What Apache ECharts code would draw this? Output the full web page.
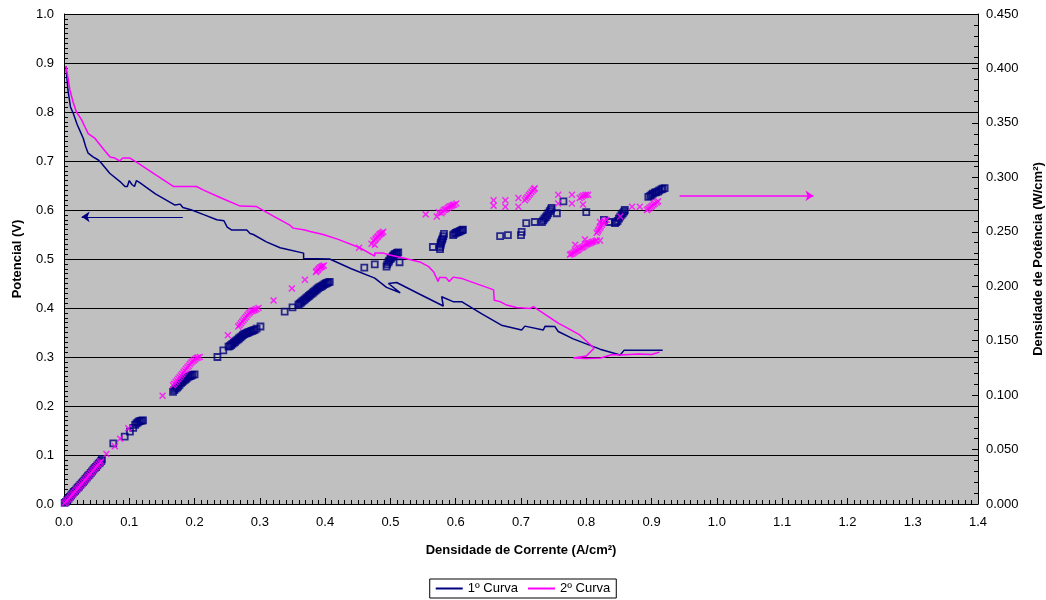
<!DOCTYPE html>
<html><head><meta charset="utf-8">
<script src="https://cdn.jsdelivr.net/npm/echarts@6/dist/echarts.min.js"></script>
<style>html,body{margin:0;padding:0;background:#fff}#c{width:1046px;height:600px}</style>
</head><body><div id="c"></div>
<script>
// Polarization curves [current density A/cm², potential V]
const curve1 = [[0.003,0.893],[0.006,0.845],[0.010,0.81],[0.0143,0.797],[0.020,0.775],[0.025,0.76],[0.0296,0.746],[0.033,0.73],[0.037,0.716],[0.045,0.708],[0.0526,0.702],[0.0577,0.695],[0.070,0.675],[0.0858,0.658],[0.0934,0.648],[0.097,0.648],[0.100,0.66],[0.104,0.652],[0.108,0.648],[0.111,0.66],[0.116,0.656],[0.140,0.633],[0.170,0.610],[0.178,0.612],[0.182,0.605],[0.1956,0.600],[0.215,0.59],[0.234,0.580],[0.245,0.578],[0.250,0.565],[0.257,0.559],[0.280,0.559],[0.285,0.552],[0.290,0.55],[0.310,0.535],[0.331,0.523],[0.341,0.52],[0.367,0.512],[0.367,0.501],[0.407,0.5],[0.440,0.48],[0.476,0.461],[0.494,0.442],[0.515,0.431],[0.497,0.45],[0.5095,0.452],[0.545,0.428],[0.581,0.404],[0.5785,0.423],[0.596,0.413],[0.609,0.413],[0.640,0.388],[0.670,0.365],[0.701,0.355],[0.706,0.363],[0.734,0.355],[0.737,0.363],[0.752,0.362],[0.757,0.352],[0.780,0.337],[0.821,0.316],[0.852,0.304],[0.858,0.314],[0.917,0.314]];
const curve2 = [[0.003,0.893],[0.006,0.87],[0.009,0.845],[0.014,0.82],[0.019,0.80],[0.027,0.784],[0.032,0.77],[0.037,0.756],[0.0475,0.746],[0.060,0.725],[0.0705,0.708],[0.078,0.706],[0.085,0.700],[0.090,0.706],[0.101,0.706],[0.114,0.695],[0.140,0.672],[0.1675,0.648],[0.203,0.648],[0.213,0.641],[0.240,0.625],[0.270,0.608],[0.295,0.607],[0.320,0.588],[0.346,0.569],[0.351,0.563],[0.369,0.559],[0.377,0.556],[0.397,0.550],[0.420,0.54],[0.453,0.523],[0.476,0.506],[0.476,0.512],[0.489,0.512],[0.499,0.508],[0.520,0.502],[0.545,0.494],[0.558,0.485],[0.566,0.474],[0.573,0.454],[0.575,0.462],[0.585,0.462],[0.590,0.454],[0.596,0.463],[0.610,0.46],[0.652,0.440],[0.658,0.437],[0.659,0.416],[0.668,0.413],[0.678,0.406],[0.693,0.401],[0.714,0.399],[0.719,0.403],[0.757,0.369],[0.770,0.36],[0.790,0.345],[0.812,0.318],[0.800,0.302],[0.780,0.298],[0.800,0.297],[0.822,0.298],[0.840,0.305],[0.852,0.304],[0.880,0.306],[0.900,0.305],[0.912,0.31]];
// Power density [current density A/cm², power W/cm²]
const power1 = [[0.001,0.001],[0.003,0.002],[0.005,0.0035],[0.007,0.005],[0.009,0.0065],[0.011,0.008],[0.013,0.0095],[0.015,0.011],[0.017,0.012],[0.019,0.0135],[0.021,0.015],[0.023,0.016],[0.025,0.0175],[0.027,0.019],[0.029,0.020],[0.031,0.0215],[0.033,0.023],[0.035,0.0245],[0.037,0.026],[0.039,0.027],[0.041,0.0285],[0.043,0.030],[0.045,0.0315],[0.047,0.033],[0.049,0.034],[0.051,0.0355],[0.053,0.037],[0.055,0.038],[0.057,0.0395],[0.058,0.041],[0.0755,0.0557],[0.093,0.0618],[0.101,0.0664],[0.106,0.070],[0.109,0.0726],[0.111,0.074],[0.113,0.075],[0.115,0.0758],[0.117,0.0763],[0.119,0.0766],[0.121,0.0768],
 [0.167,0.103],[0.169,0.1045],[0.171,0.106],[0.173,0.107],[0.175,0.108],[0.177,0.1095],[0.179,0.111],[0.181,0.112],[0.183,0.113],[0.185,0.114],[0.187,0.115],[0.189,0.116],[0.191,0.117],[0.193,0.1175],[0.195,0.118],[0.197,0.1185],[0.200,0.119],
 [0.235,0.135],[0.244,0.141],[0.252,0.1445],[0.254,0.145],[0.256,0.146],[0.258,0.147],[0.260,0.148],[0.262,0.149],[0.264,0.150],[0.266,0.151],[0.268,0.152],[0.270,0.153],[0.272,0.154],[0.274,0.155],[0.276,0.156],[0.278,0.1565],[0.280,0.157],[0.282,0.1575],[0.284,0.158],[0.286,0.1585],[0.288,0.159],[0.290,0.1595],[0.292,0.160],[0.295,0.161],[0.301,0.163],
 [0.338,0.1766],[0.350,0.1806],[0.359,0.183],[0.361,0.184],[0.363,0.185],[0.365,0.186],[0.367,0.187],[0.369,0.188],[0.371,0.189],[0.373,0.190],[0.375,0.191],[0.377,0.192],[0.379,0.193],[0.381,0.194],[0.383,0.195],[0.385,0.196],[0.387,0.197],[0.389,0.198],[0.391,0.199],[0.393,0.1995],[0.395,0.200],[0.397,0.201],[0.399,0.202],[0.401,0.2025],[0.403,0.203],[0.405,0.2035],[0.407,0.204],
 [0.460,0.217],[0.476,0.220],[0.494,0.218],[0.495,0.220],[0.497,0.222],[0.498,0.2235],[0.500,0.225],[0.501,0.226],[0.503,0.227],[0.504,0.228],[0.506,0.229],[0.507,0.2295],[0.509,0.230],[0.510,0.2305],[0.512,0.231],[0.514,0.222],
 [0.565,0.236],[0.576,0.234],[0.576,0.236],[0.577,0.238],[0.577,0.2395],[0.578,0.241],[0.579,0.2425],[0.580,0.244],[0.581,0.246],[0.582,0.248],[0.596,0.247],[0.598,0.248],[0.600,0.249],[0.602,0.2495],[0.604,0.250],[0.606,0.2505],[0.608,0.251],[0.610,0.2515],[0.611,0.252],
 [0.668,0.246],[0.680,0.247],[0.700,0.247],[0.701,0.250],[0.708,0.258],[0.721,0.259],[0.732,0.259],[0.734,0.2605],[0.736,0.262],[0.738,0.2635],[0.740,0.265],[0.742,0.267],[0.744,0.269],[0.746,0.2705],[0.747,0.272],[0.755,0.267],[0.765,0.278],[0.800,0.268],[0.827,0.261],[0.835,0.259],[0.844,0.258],[0.846,0.259],[0.848,0.260],[0.850,0.262],[0.852,0.264],[0.854,0.2655],[0.856,0.267],[0.858,0.2685],[0.859,0.270],
 [0.895,0.282],[0.898,0.283],[0.900,0.284],[0.902,0.285],[0.905,0.286],[0.907,0.2865],[0.910,0.287],[0.912,0.288],[0.915,0.289],[0.917,0.2895],[0.920,0.290]];
const power2 = [[0.001,0.0008],[0.003,0.002],[0.005,0.0033],[0.007,0.0046],[0.009,0.006],[0.011,0.0074],[0.013,0.0088],[0.015,0.010],[0.017,0.0115],[0.019,0.013],[0.021,0.0143],[0.023,0.0157],[0.025,0.017],[0.027,0.0184],[0.029,0.0198],[0.031,0.0212],[0.033,0.0226],[0.035,0.024],[0.037,0.0254],[0.039,0.0268],[0.041,0.0282],[0.043,0.0296],[0.045,0.031],[0.047,0.0324],[0.049,0.0338],[0.051,0.0352],[0.053,0.0366],[0.055,0.038],[0.057,0.039],[0.065,0.046],[0.078,0.053],[0.086,0.060],[0.0985,0.0695],[0.151,0.0995],
 [0.167,0.109],[0.169,0.1105],[0.171,0.112],[0.173,0.1135],[0.175,0.115],[0.177,0.1165],[0.179,0.118],[0.181,0.1195],[0.183,0.121],[0.185,0.1225],[0.187,0.124],[0.189,0.1255],[0.191,0.127],[0.193,0.1285],[0.195,0.130],[0.197,0.131],[0.199,0.132],[0.201,0.133],[0.203,0.134],[0.205,0.1345],[0.208,0.135],
 [0.251,0.155],[0.267,0.163],[0.269,0.1645],[0.271,0.166],[0.273,0.1675],[0.275,0.169],[0.277,0.1705],[0.279,0.172],[0.281,0.1735],[0.283,0.175],[0.285,0.176],[0.287,0.177],[0.289,0.1775],[0.291,0.178],[0.293,0.1785],[0.295,0.179],[0.298,0.180],[0.321,0.187],
 [0.349,0.198],[0.369,0.206],[0.386,0.213],[0.387,0.214],[0.389,0.215],[0.390,0.216],[0.392,0.217],[0.393,0.2175],[0.395,0.218],[0.396,0.2185],[0.398,0.219],
 [0.452,0.2354],[0.471,0.239],[0.474,0.242],[0.476,0.238],[0.477,0.243],[0.478,0.244],[0.480,0.245],[0.481,0.246],[0.483,0.247],[0.484,0.248],[0.486,0.2485],[0.487,0.249],[0.489,0.250],
 [0.554,0.266],[0.571,0.264],[0.574,0.268],[0.578,0.267],[0.580,0.2685],[0.582,0.270],[0.584,0.2705],[0.586,0.271],[0.588,0.272],[0.590,0.273],[0.592,0.2735],[0.594,0.274],[0.596,0.2745],[0.598,0.275],[0.601,0.276],
 [0.658,0.274],[0.658,0.279],[0.676,0.279],[0.676,0.273],[0.696,0.281],[0.696,0.273],[0.706,0.279],[0.708,0.2805],[0.710,0.282],[0.712,0.2835],[0.714,0.285],[0.716,0.2865],[0.718,0.288],[0.720,0.289],[0.721,0.290],
 [0.757,0.284],[0.757,0.276],[0.778,0.284],[0.778,0.276],[0.790,0.281],[0.793,0.282],[0.795,0.283],[0.798,0.2835],[0.800,0.284],[0.803,0.284],[0.795,0.275],
 [0.775,0.229],[0.777,0.2295],[0.779,0.230],[0.781,0.231],[0.783,0.232],[0.785,0.2325],[0.787,0.233],[0.789,0.234],[0.791,0.235],[0.793,0.2355],[0.795,0.236],[0.797,0.237],[0.799,0.238],[0.801,0.2385],[0.803,0.239],[0.805,0.2395],[0.807,0.240],[0.809,0.2405],[0.811,0.241],[0.814,0.2415],[0.816,0.242],[0.821,0.242],[0.783,0.238],[0.798,0.243],
 [0.816,0.249],[0.818,0.2505],[0.819,0.252],[0.821,0.2535],[0.822,0.255],[0.824,0.2565],[0.825,0.258],[0.827,0.259],[0.828,0.260],[0.831,0.261],[0.821,0.259],
 [0.852,0.264],[0.870,0.273],[0.882,0.273],[0.893,0.270],[0.895,0.271],[0.897,0.272],[0.899,0.273],[0.901,0.274],[0.903,0.275],[0.905,0.276],[0.908,0.277],[0.910,0.278]];
// Annotation arrows
const arrowLeft = [[0.182,0.586],[0.027,0.586]];   // points to potential axis
const arrowRight = [[0.943,0.283],[1.148,0.283]];  // points to power axis
const legendNames = ['1º Curva','2º Curva'];

const NAVY = '#000080', MAG = '#FF00FF';
const FONT = 'Liberation Sans';
const xMark = 'path://M0,1.5L1.5,0L5,3.5L8.5,0L10,1.5L6.5,5L10,8.5L8.5,10L5,6.5L1.5,10L0,8.5L3.5,5Z';
const chart = echarts.init(document.getElementById('c'), null, {renderer:'canvas'});
const tickLbl = {color:'#000', fontFamily:FONT, fontSize:13};
chart.setOption({
  animation:false,
  textStyle:{fontFamily:FONT},
  grid:{left:64, right:68, top:14, bottom:96, show:true, backgroundColor:'#C0C0C0', borderWidth:0,
    containLabel:false, outerBoundsMode:'none'},
  legend:{data:legendNames, bottom:2, left:'center', itemWidth:27, itemHeight:2, itemGap:10,
    borderColor:'#000', borderWidth:1, borderRadius:0, padding:[3,6,3,6], backgroundColor:'#fff',
    textStyle:{fontFamily:FONT, fontSize:13, color:'#000'}, icon:'rect'},
  xAxis:{type:'value', min:0, max:1.4, interval:0.1,
    name:'Densidade de Corrente (A/cm²)', nameLocation:'middle', nameGap:40,
    nameTextStyle:{fontFamily:FONT, fontSize:13, fontWeight:'bold', color:'#000'},
    axisLine:{show:true, onZero:false, lineStyle:{color:'#000', width:1}},
    axisTick:{show:true, inside:true, length:6, lineStyle:{color:'#000'}},
    minorTick:{show:true, splitNumber:10, length:4, lineStyle:{color:'#000'}},
    splitLine:{show:false},
    axisLabel:Object.assign({margin:12, formatter:v=>v.toFixed(1)}, tickLbl)},
  yAxis:[{type:'value', min:0, max:1.0, interval:0.1,
    name:'Potencial (V)', nameLocation:'middle', nameGap:40, nameRotate:90,
    nameTextStyle:{fontFamily:FONT, fontSize:13, fontWeight:'bold', color:'#000'},
    axisLine:{show:true, onZero:false, lineStyle:{color:'#000'}},
    axisTick:{show:true, inside:true, length:6, lineStyle:{color:'#000'}},
    minorTick:{show:true, splitNumber:10, length:4, lineStyle:{color:'#000'}},
    splitLine:{show:true, lineStyle:{color:'#000', width:1}},
    axisLabel:Object.assign({margin:10, formatter:v=>v.toFixed(1)}, tickLbl)},
   {type:'value', min:0, max:0.45, interval:0.05, position:'right',
    name:'Densidade de Potência (W/cm²)', nameLocation:'middle', nameGap:54, nameRotate:90,
    nameTextStyle:{fontFamily:FONT, fontSize:13, fontWeight:'bold', color:'#000'},
    axisLine:{show:true, onZero:false, lineStyle:{color:'#000'}},
    axisTick:{show:true, inside:true, length:6, lineStyle:{color:'#000'}},
    minorTick:{show:true, splitNumber:5, length:4, lineStyle:{color:'#000'}},
    splitLine:{show:false},
    axisLabel:Object.assign({margin:8, formatter:v=>v.toFixed(3)}, tickLbl)}],
  series:[
    {name:'P1', type:'scatter', yAxisIndex:1, data:power1, symbol:'rect', symbolSize:6,
      itemStyle:{color:'rgba(0,0,0,0)', borderColor:NAVY, borderWidth:1.8}, z:3},
    {name:'P2', type:'scatter', yAxisIndex:1, data:power2, symbol:xMark, symbolSize:7,
      itemStyle:{color:MAG}, z:3},
    {name:legendNames[0], type:'line', yAxisIndex:0, data:curve1, symbol:'none', color:NAVY,
      lineStyle:{color:NAVY, width:1.5}, z:4},
    {name:legendNames[1], type:'line', yAxisIndex:0, data:curve2, symbol:'none', color:MAG,
      lineStyle:{color:MAG, width:1.5}, z:4},
    {type:'lines', coordinateSystem:'cartesian2d', xAxisIndex:0, yAxisIndex:0,
      symbol:['none','arrow'], symbolSize:8,
      lineStyle:{color:NAVY, width:1, opacity:1}, data:[{coords:arrowLeft}], z:5},
    {type:'lines', coordinateSystem:'cartesian2d', xAxisIndex:0, yAxisIndex:1,
      symbol:['none','arrow'], symbolSize:8,
      lineStyle:{color:MAG, width:1.5, opacity:1}, data:[{coords:arrowRight}], z:5}
  ]
});
</script></body></html>
